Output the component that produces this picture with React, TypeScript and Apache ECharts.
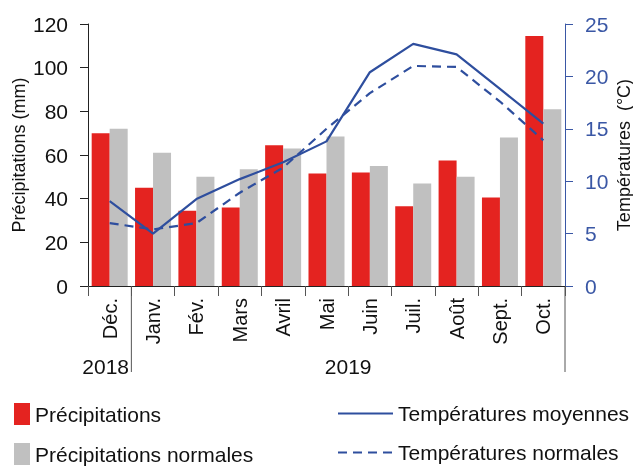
import React, { useEffect, useRef } from "react";
import * as echarts from "echarts";

const months = ["Déc.", "Janv.", "Fév.", "Mars", "Avril", "Mai", "Juin", "Juil.", "Août", "Sept.", "Oct."];
const precipitations = [70, 45, 34.5, 36, 64.5, 51.5, 52, 36.5, 57.5, 40.5, 114.5];
const precipitationsNormales = [72, 61, 50, 53.5, 63, 68.5, 55, 47, 50, 68, 81];
const temperaturesMoyennes = [8.1, 5.0, 8.3, 10.2, 11.8, 13.8, 20.4, 23.1, 22.1, 18.8, 15.5];
const temperaturesNormales = [6.0, 5.4, 6.0, 8.9, 11.3, 15.0, 18.4, 21.0, 20.9, 17.6, 13.9];
const years = [
  { label: "2018", from: 0, to: 1 },
  { label: "2019", from: 1, to: 11 },
];

const W = 633;
const H = 468;
const GRID = { left: 88, right: 68, top: 24, bottom: 182 };
const FONT = "'Liberation Sans', Arial, sans-serif";
const RED = "#e42320";
const GREY = "#c0c0c0";
const BLUE = "#2e4e9e";
const AXIS_BLUE = "#3a57a5";

export default function App() {
  const ref = useRef<HTMLDivElement>(null);

  useEffect(() => {
    if (!ref.current) return;
    const chart = echarts.init(ref.current, null, { renderer: "svg" });
    const plotW = W - GRID.left - GRID.right;
    const catW = plotW / months.length;
    const axisY = H - GRID.bottom;
    const sepBottom = 372;

    const graphics: any[] = [];
    years.forEach((y, i) => {
      const cx = GRID.left + ((y.from + y.to) / 2) * catW + (i === 0 ? -4 : 0);
      graphics.push({
        type: "text",
        x: cx,
        y: 366,
        style: { text: y.label, font: `21px ${FONT}`, fill: "#111", align: "center", verticalAlign: "middle" },
      });
      if (i < years.length - 1) {
        const sx = GRID.left + y.to * catW;
        graphics.push({ type: "line", shape: { x1: sx, y1: axisY, x2: sx, y2: sepBottom }, style: { stroke: "#555", lineWidth: 1 } });
      }
    });
    graphics.push({
      type: "line",
      shape: { x1: W - GRID.right, y1: axisY, x2: W - GRID.right, y2: sepBottom },
      style: { stroke: "#555", lineWidth: 1 },
    });

    chart.setOption({
      animation: false,
      textStyle: { fontFamily: FONT },
      grid: {
        left: GRID.left,
        right: GRID.right,
        top: GRID.top,
        bottom: GRID.bottom,
        containLabel: false,
        outerBoundsMode: "none",
      },
      legend: [
        {
          data: ["Précipitations", "Précipitations normales"],
          orient: "vertical",
          left: 14,
          top: 403,
          padding: 0,
          itemWidth: 16,
          itemHeight: 22,
          itemGap: 18,
          icon: "rect",
          selectedMode: false,
          textStyle: { fontSize: 21, color: "#111", fontFamily: FONT },
        },
        {
          data: ["Températures moyennes", "Températures normales"],
          orient: "vertical",
          left: 337,
          top: 403,
          padding: 0,
          itemWidth: 55,
          itemHeight: 22,
          itemGap: 18,
          selectedMode: false,
          itemStyle: { opacity: 0 },
          textStyle: { fontSize: 21, color: "#111", fontFamily: FONT },
        },
      ],
      xAxis: {
        type: "category",
        data: months,
        axisLine: { lineStyle: { color: "#222", width: 1 } },
        axisTick: { show: true, length: 10, lineStyle: { color: "#555" } },
        axisLabel: { rotate: 90, interval: 0, margin: 12, fontSize: 20, color: "#111", fontFamily: FONT },
      },
      yAxis: [
        {
          type: "value",
          min: 0,
          max: 120,
          interval: 20,
          position: "left",
          axisLine: { show: true, lineStyle: { color: "#222" } },
          axisTick: { show: true, length: 8, lineStyle: { color: "#222" } },
          axisLabel: { fontSize: 21, color: "#111", margin: 20, fontFamily: FONT },
          splitLine: { show: false },
          name: "Précipitations (mm)",
          nameLocation: "middle",
          nameGap: 60,
          nameRotate: 90,
          nameMoveOverlap: false,
          nameTextStyle: { fontSize: 18, color: "#111", fontFamily: FONT },
        },
        {
          type: "value",
          min: 0,
          max: 25,
          interval: 5,
          position: "right",
          axisLine: { show: true, lineStyle: { color: AXIS_BLUE } },
          axisTick: { show: true, length: 8, lineStyle: { color: AXIS_BLUE } },
          axisLabel: { fontSize: 21, color: AXIS_BLUE, margin: 20, fontFamily: FONT },
          splitLine: { show: false },
          name: "Températures  (°C)",
          nameLocation: "middle",
          nameGap: 50,
          nameRotate: 90,
          nameMoveOverlap: false,
          nameTextStyle: { fontSize: 18, color: "#111", fontFamily: FONT },
        },
      ],
      series: [
        {
          name: "Précipitations",
          type: "bar",
          data: precipitations,
          barWidth: 18,
          barGap: "0%",
          itemStyle: { color: RED },
        },
        {
          name: "Précipitations normales",
          type: "bar",
          data: precipitationsNormales,
          barWidth: 18,
          barGap: "0%",
          itemStyle: { color: GREY },
        },
        {
          name: "Températures normales",
          type: "line",
          yAxisIndex: 1,
          data: temperaturesNormales,
          symbol: "none",
          itemStyle: { color: BLUE },
          lineStyle: { color: BLUE, width: 2.2, type: [9, 6] },
          z: 3,
        },
        {
          name: "Températures moyennes",
          type: "line",
          yAxisIndex: 1,
          data: temperaturesMoyennes,
          symbol: "none",
          itemStyle: { color: BLUE },
          lineStyle: { color: BLUE, width: 2.2 },
          z: 4,
        },
      ],
      graphic: graphics,
    });

    return () => chart.dispose();
  }, []);

  return <div ref={ref} style={{ position: "fixed", left: 0, top: 0, width: W, height: H }} />;
}
